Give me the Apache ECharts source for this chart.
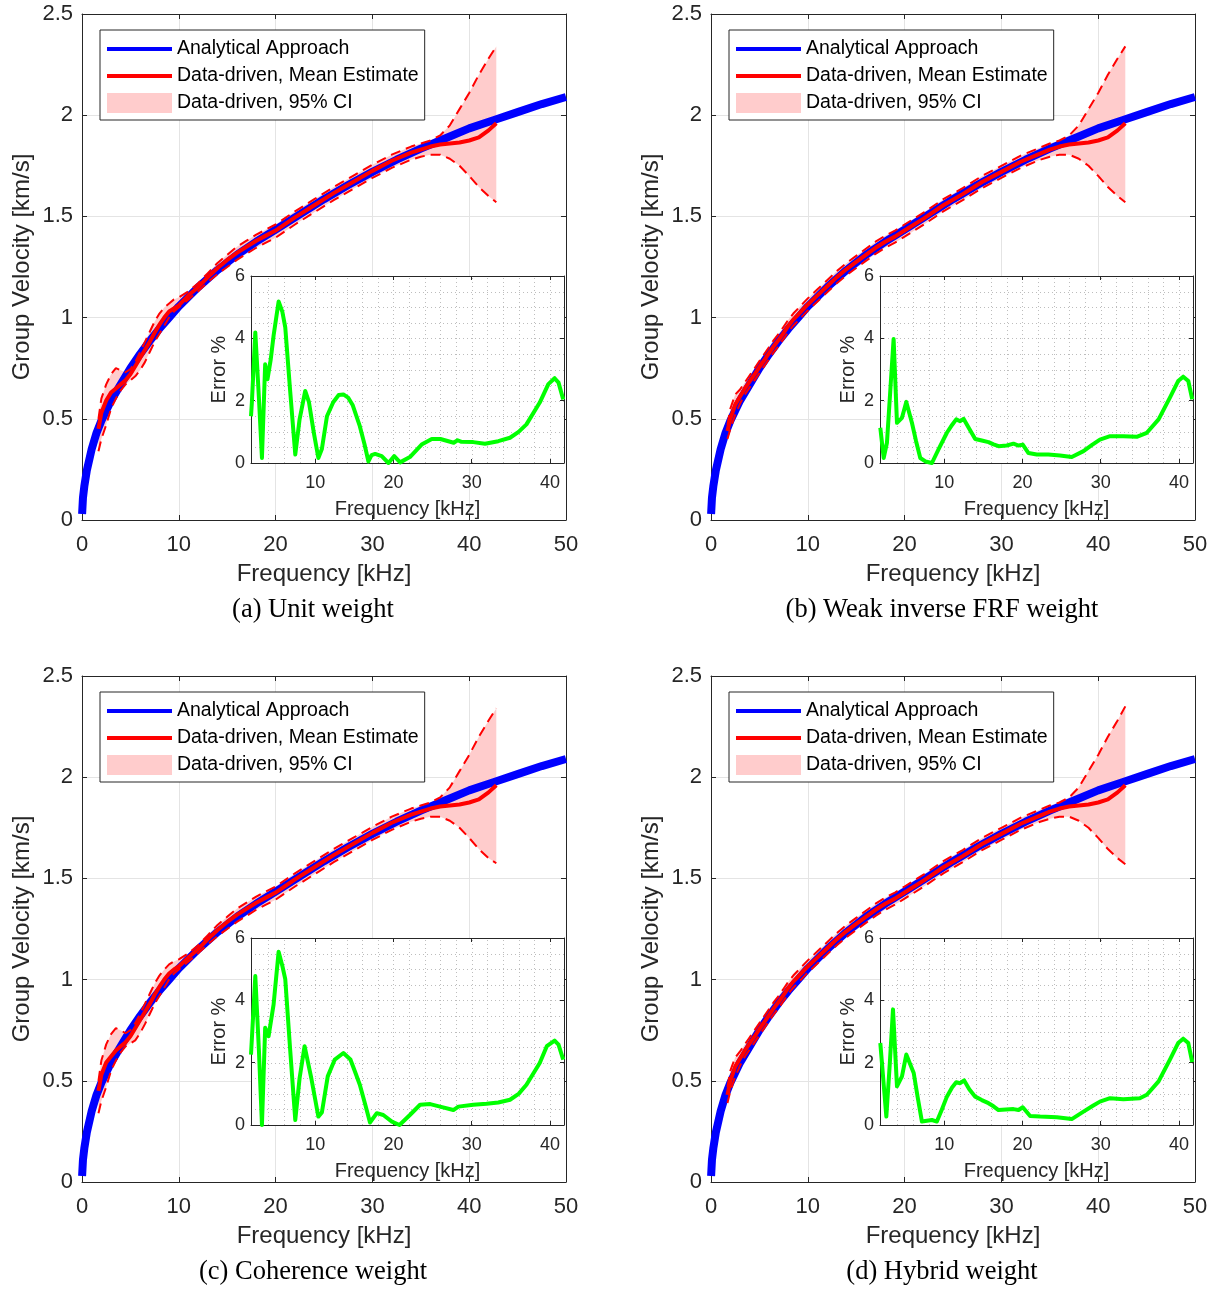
<!DOCTYPE html>
<html>
<head>
<meta charset="utf-8">
<script src="https://cdn.jsdelivr.net/npm/echarts@6/dist/echarts.min.js"></script>
<style>
  html, body { margin: 0; padding: 0; background: #fff; }
  #chart { width: 1217px; height: 1289px; }
</style>
</head>
<body>
<div id="chart"></div>
<script>
// ---- Analytical group velocity (same curve in every panel) ----
const fAna = [0.01, 0.1, 0.25, 0.5, 1, 1.5, 2, 3, 4, 5, 6, 7, 8, 9, 10, 12, 14, 16, 18, 20,
              22.5, 25, 27.5, 30, 32.5, 35, 37.5, 40, 42.5, 45, 47.5, 50];
const vAna = [0.03, 0.11, 0.17, 0.245, 0.35, 0.43, 0.49, 0.59, 0.67, 0.75, 0.82, 0.885, 0.945, 1.0, 1.055, 1.15, 1.235, 1.31, 1.375, 1.435,
              1.51, 1.585, 1.655, 1.72, 1.78, 1.835, 1.885, 1.935, 1.975, 2.015, 2.055, 2.09];

// ---- Data-driven estimates: common frequency grid [kHz] ----
const fDD = [1.7, 2.0, 2.5, 3.0, 3.5, 4.0, 4.5, 5.0, 5.5, 6.0, 6.5, 7.0, 7.5, 8.0, 8.5, 9.0, 9.5, 10,
             11, 12, 13, 14, 15, 16, 17, 18, 19, 20,
             22, 24, 26, 28, 30, 32, 34,
             35, 36, 37, 38, 39, 40, 41, 42, 42.8];

// (a) Unit weight
const meanA = [0.45, 0.53, 0.59, 0.63, 0.65, 0.67, 0.69, 0.72, 0.76, 0.80, 0.84, 0.88, 0.925, 0.965, 1.0, 1.03, 1.045, 1.06,
               1.11, 1.15, 1.20, 1.245, 1.285, 1.32, 1.35, 1.38, 1.405, 1.43,
               1.495, 1.555, 1.615, 1.67, 1.725, 1.775, 1.815,
               1.83, 1.845, 1.855, 1.86, 1.865, 1.875, 1.89, 1.925, 1.96];
const hiA = [0.50, 0.60, 0.67, 0.72, 0.75, 0.74, 0.73, 0.745, 0.78, 0.83, 0.88, 0.93, 0.98, 1.02, 1.05, 1.07, 1.09, 1.10,
             1.13, 1.17, 1.22, 1.27, 1.31, 1.35, 1.38, 1.41, 1.435, 1.46,
             1.525, 1.585, 1.645, 1.70, 1.755, 1.805, 1.845,
             1.86, 1.875, 1.90, 1.95, 2.03, 2.11, 2.20, 2.28, 2.34];
const loA = [0.34, 0.40, 0.47, 0.55, 0.60, 0.64, 0.67, 0.69, 0.71, 0.74, 0.78, 0.83, 0.88, 0.92, 0.96, 1.00, 1.03, 1.05,
             1.09, 1.13, 1.175, 1.215, 1.25, 1.285, 1.315, 1.345, 1.37, 1.395,
             1.46, 1.52, 1.58, 1.635, 1.69, 1.74, 1.78,
             1.795, 1.805, 1.805, 1.785, 1.75, 1.70, 1.645, 1.60, 1.57];

// (b) Weak inverse FRF weight
const meanB = [0.44, 0.50, 0.57, 0.61, 0.65, 0.685, 0.72, 0.755, 0.79, 0.825, 0.86, 0.89, 0.925, 0.96, 0.99, 1.015, 1.04, 1.065,
               1.11, 1.155, 1.20, 1.24, 1.275, 1.31, 1.345, 1.375, 1.40, 1.43,
               1.49, 1.555, 1.61, 1.67, 1.72, 1.77, 1.81,
               1.83, 1.845, 1.855, 1.86, 1.865, 1.875, 1.89, 1.925, 1.96];
const hiB = [0.47, 0.55, 0.62, 0.645, 0.68, 0.715, 0.75, 0.785, 0.82, 0.855, 0.89, 0.92, 0.955, 0.99, 1.02, 1.045, 1.07, 1.095,
             1.14, 1.185, 1.23, 1.27, 1.305, 1.34, 1.375, 1.405, 1.43, 1.46,
             1.52, 1.585, 1.64, 1.70, 1.75, 1.80, 1.84,
             1.86, 1.875, 1.90, 1.95, 2.03, 2.11, 2.20, 2.28, 2.34];
const loB = [0.40, 0.45, 0.52, 0.575, 0.62, 0.655, 0.69, 0.725, 0.76, 0.795, 0.83, 0.86, 0.895, 0.93, 0.96, 0.985, 1.01, 1.035,
             1.08, 1.125, 1.17, 1.21, 1.245, 1.28, 1.315, 1.345, 1.37, 1.40,
             1.46, 1.525, 1.58, 1.64, 1.69, 1.74, 1.78,
             1.795, 1.805, 1.805, 1.785, 1.75, 1.70, 1.645, 1.60, 1.57];

// (c) Coherence weight
const meanC = [0.45, 0.53, 0.59, 0.62, 0.65, 0.67, 0.69, 0.72, 0.76, 0.80, 0.84, 0.88, 0.925, 0.965, 1.0, 1.03, 1.05, 1.065,
               1.11, 1.15, 1.20, 1.245, 1.285, 1.32, 1.35, 1.38, 1.405, 1.43,
               1.495, 1.555, 1.615, 1.67, 1.725, 1.775, 1.815,
               1.83, 1.845, 1.855, 1.86, 1.865, 1.875, 1.89, 1.925, 1.96];
const hiC = [0.50, 0.60, 0.68, 0.73, 0.76, 0.75, 0.735, 0.75, 0.785, 0.83, 0.88, 0.93, 0.98, 1.02, 1.05, 1.075, 1.09, 1.10,
             1.13, 1.17, 1.22, 1.27, 1.31, 1.35, 1.38, 1.41, 1.435, 1.46,
             1.525, 1.585, 1.645, 1.70, 1.755, 1.805, 1.845,
             1.86, 1.875, 1.90, 1.95, 2.03, 2.11, 2.20, 2.28, 2.34];
const loC = [0.34, 0.40, 0.47, 0.55, 0.60, 0.64, 0.67, 0.685, 0.70, 0.735, 0.78, 0.83, 0.88, 0.92, 0.96, 1.00, 1.03, 1.05,
             1.09, 1.13, 1.175, 1.215, 1.25, 1.285, 1.315, 1.345, 1.37, 1.395,
             1.46, 1.52, 1.58, 1.635, 1.69, 1.74, 1.78,
             1.795, 1.805, 1.805, 1.785, 1.75, 1.70, 1.645, 1.60, 1.575];

// (d) Hybrid weight
const meanD = [0.43, 0.50, 0.57, 0.61, 0.65, 0.685, 0.72, 0.755, 0.79, 0.825, 0.86, 0.89, 0.925, 0.96, 0.99, 1.015, 1.04, 1.065,
               1.11, 1.155, 1.20, 1.24, 1.275, 1.31, 1.345, 1.375, 1.40, 1.43,
               1.49, 1.555, 1.61, 1.67, 1.72, 1.77, 1.81,
               1.83, 1.845, 1.855, 1.86, 1.865, 1.875, 1.89, 1.925, 1.96];
const hiD = [0.47, 0.55, 0.615, 0.645, 0.68, 0.715, 0.75, 0.785, 0.82, 0.855, 0.89, 0.92, 0.955, 0.99, 1.02, 1.045, 1.07, 1.095,
             1.14, 1.185, 1.23, 1.27, 1.305, 1.34, 1.375, 1.405, 1.43, 1.46,
             1.52, 1.585, 1.64, 1.70, 1.75, 1.80, 1.84,
             1.86, 1.875, 1.90, 1.95, 2.03, 2.11, 2.20, 2.28, 2.35];
const loD = [0.39, 0.45, 0.52, 0.575, 0.62, 0.655, 0.69, 0.725, 0.76, 0.795, 0.83, 0.86, 0.895, 0.93, 0.96, 0.985, 1.01, 1.035,
             1.08, 1.125, 1.17, 1.21, 1.245, 1.28, 1.315, 1.345, 1.37, 1.40,
             1.46, 1.525, 1.58, 1.64, 1.69, 1.74, 1.78,
             1.795, 1.805, 1.805, 1.785, 1.75, 1.70, 1.645, 1.60, 1.57];

// ---- Relative error of the mean estimate [%] ----
const errFreqA = [1.79, 1.9, 2.34, 2.8, 3.19, 3.6, 3.9, 4.3, 4.68, 5.32, 5.8, 6.17, 6.8, 7.45, 8.0, 8.72, 9.2, 9.8, 10.4, 10.85,
                  11.5, 12.3, 13.0, 13.6, 14.2, 14.8, 15.7, 16.3, 16.8, 17.2, 17.66, 18.5, 19.36, 20.1, 20.85,
                  22.1, 23.6, 24.9, 26.0, 27.7, 28.2, 28.7, 30.2, 31.7, 33.4, 34.9, 36.0, 37.0, 38.7, 39.8, 40.6, 41.1, 41.7];
const errA = [1.5, 1.94, 4.19, 2.1, 0.16, 3.17, 2.69, 3.3, 4.09, 5.18, 4.85, 4.35, 2.3, 0.27, 1.4, 2.31, 1.95, 1.0, 0.16, 0.45,
              1.5, 1.95, 2.18, 2.2, 2.1, 1.85, 1.18, 0.6, 0.05, 0.25, 0.29, 0.22, 0.0, 0.22, 0.02,
              0.19, 0.59, 0.77, 0.77, 0.65, 0.73, 0.68, 0.67, 0.62, 0.70, 0.81, 1.0, 1.24, 1.94, 2.53, 2.72, 2.58, 2.04];

const errFreqB = [1.83, 2.26, 2.68, 3.1, 3.53, 3.96, 4.6, 5.15, 5.87, 6.4, 6.94, 7.6, 8.43, 9.3, 10.34,
                  11.0, 11.53, 12.04, 12.47, 13.2, 13.96, 14.8, 15.66, 16.3, 16.94, 18.0, 18.85, 19.5, 20.04, 20.77,
                  21.83, 23.3, 24.8, 26.3, 27.8, 28.9, 29.9, 31.2, 32.9, 34.6, 35.9, 37.4, 38.85, 39.9, 40.55, 41.2, 41.7];
const errB = [1.13, 0.16, 0.65, 2.3, 3.98, 1.29, 1.45, 1.96, 1.29, 0.7, 0.16, 0.05, 0.0, 0.45, 0.97,
              1.22, 1.4, 1.34, 1.42, 1.1, 0.77, 0.72, 0.67, 0.6, 0.54, 0.56, 0.62, 0.56, 0.59, 0.32,
              0.27, 0.27, 0.24, 0.19, 0.38, 0.58, 0.75, 0.86, 0.86, 0.84, 0.97, 1.4, 2.1, 2.63, 2.77, 2.63, 2.04];

const errFreqC = [1.79, 2.34, 2.8, 3.19, 3.6, 4.04, 4.68, 5.32, 5.8, 6.17, 6.8, 7.45, 8.0, 8.64, 9.5,
                  10.4, 10.85, 11.6, 12.5, 13.6, 14.5, 15.1, 15.7, 16.4, 17.0, 17.87, 18.7, 19.8, 20.77,
                  22.1, 23.4, 24.7, 25.96, 27.66, 28.3, 30.2, 31.9, 33.4, 34.9, 36.0, 37.0, 38.7, 39.6, 40.6, 41.1, 41.7];
const errC = [2.26, 4.78, 2.4, 0.0, 3.12, 2.85, 3.87, 5.56, 5.1, 4.68, 2.4, 0.16, 1.5, 2.53, 1.5,
              0.27, 0.4, 1.56, 2.1, 2.31, 2.1, 1.7, 1.29, 0.65, 0.08, 0.38, 0.32, 0.11, 0.0,
              0.32, 0.65, 0.67, 0.59, 0.48, 0.59, 0.65, 0.68, 0.72, 0.81, 1.0, 1.29, 1.99, 2.53, 2.71, 2.58, 2.1];

const errFreqD = [1.83, 2.6, 3.05, 3.45, 3.96, 4.6, 5.15, 6.1, 6.6, 7.15, 8.43, 9.06, 9.7, 10.34,
                  11.0, 11.53, 12.04, 12.55, 13.2, 13.96, 14.8, 15.66, 16.3, 16.94, 18.85, 19.5, 20.04, 20.98,
                  22.26, 24.4, 26.3, 27.8, 28.9, 29.9, 31.2, 32.9, 35.0, 35.9, 37.4, 38.85, 39.9, 40.55, 41.2, 41.7];
const errD = [2.63, 0.27, 2.0, 3.71, 1.24, 1.56, 2.26, 1.67, 0.9, 0.11, 0.16, 0.11, 0.5, 0.91,
              1.2, 1.37, 1.34, 1.43, 1.15, 0.91, 0.8, 0.70, 0.6, 0.48, 0.51, 0.48, 0.57, 0.29,
              0.27, 0.25, 0.19, 0.43, 0.6, 0.75, 0.86, 0.83, 0.86, 0.97, 1.40, 2.10, 2.63, 2.77, 2.63, 2.02];

// ---- Axis ticks / labels ----
const mainXTicks = [0, 10, 20, 30, 40, 50];
const mainYTicks = [0, 0.5, 1, 1.5, 2, 2.5];
const insetXTicks = [10, 20, 30, 40];
const insetYTicks = [0, 2, 4, 6];
const insetXMinor = [4, 6, 8, 10, 12, 14, 16, 18, 20, 22, 24, 26, 28, 30, 32, 34, 36, 38, 40];
const insetYMinor = [0.5, 1, 1.5, 2, 2.5, 3, 3.5, 4, 4.5, 5, 5.5];

const captions = ['(a) Unit weight', '(b) Weak inverse FRF weight', '(c) Coherence weight', '(d) Hybrid weight'];
const legendNames = ['Analytical Approach', 'Data-driven, Mean Estimate', 'Data-driven, 95% CI'];

const panels = [
  { mean: meanA, lo: loA, hi: hiA, ef: errFreqA, err: errA },
  { mean: meanB, lo: loB, hi: hiB, ef: errFreqB, err: errB },
  { mean: meanC, lo: loC, hi: hiC, ef: errFreqC, err: errC },
  { mean: meanD, lo: loD, hi: hiD, ef: errFreqD, err: errD }
];

// ---- Layout of the 2x2 figure ----
const layout = [
  { left: 82,  top: 14,  inL: 251, inT: 276, capX: 313, capY: 610 },
  { left: 711, top: 14,  inL: 880, inT: 276, capX: 942, capY: 610 },
  { left: 82,  top: 676, inL: 251, inT: 938, capX: 313, capY: 1272 },
  { left: 711, top: 676, inL: 880, inT: 938, capX: 942, capY: 1272 }
];
const MAIN_W = 484, MAIN_H = 506, IN_W = 313, IN_H = 187;

const FONT = '"Liberation Sans", Arial, Helvetica, sans-serif';
const AXC = '#262626';
const BLUE = '#0000ff', RED = '#ff0000', PINK = '#ffcccc', GREEN = '#00ff00';

const zip = (xs, ys) => xs.map((x, i) => [x, ys[i]]);

const grid = [], xAxis = [], yAxis = [], series = [], legend = [], graphic = [];

function axisBase(gi, z) {
  return {
    type: 'value', gridIndex: gi, z: z,
    axisLine: { show: true, onZero: false, lineStyle: { color: AXC, width: 1 } },
    axisTick: { show: true, inside: true, length: 5, lineStyle: { color: AXC, width: 1 } },
    splitLine: { show: false },
    axisLabel: { show: false }
  };
}

layout.forEach((L, i) => {
  const P = panels[i];
  const gMain = 2 * i, gIn = 2 * i + 1;
  grid.push({ left: L.left, top: L.top, width: MAIN_W, height: MAIN_H, z: 0 });
  grid.push({ left: L.inL, top: L.inT, width: IN_W, height: IN_H, z: 7, show: true,
              backgroundColor: '#ffffff', borderWidth: 0 });

  // main axes (bottom/top, left/right)
  xAxis.push(Object.assign(axisBase(gMain, 0), {
    position: 'bottom', min: 0, max: 50, interval: 10,
    splitLine: { show: true, lineStyle: { color: '#e4e4e4', width: 1 } },
    axisLabel: { show: true, fontSize: 22, color: AXC, fontFamily: FONT, margin: 14 },
    name: 'Frequency [kHz]', nameLocation: 'middle', nameGap: 42,
    nameTextStyle: { fontSize: 24, color: AXC, fontFamily: FONT }
  }));
  xAxis.push(Object.assign(axisBase(gMain, 0), { position: 'top', min: 0, max: 50, interval: 10 }));
  yAxis.push(Object.assign(axisBase(gMain, 0), {
    position: 'left', min: 0, max: 2.5, interval: 0.5,
    splitLine: { show: true, lineStyle: { color: '#e4e4e4', width: 1 } },
    axisLabel: { show: true, fontSize: 22, color: AXC, fontFamily: FONT, margin: 9 },
    name: 'Group Velocity [km/s]', nameLocation: 'middle', nameGap: 48,
    nameTextStyle: { fontSize: 24, color: AXC, fontFamily: FONT }
  }));
  yAxis.push(Object.assign(axisBase(gMain, 0), { position: 'right', min: 0, max: 2.5, interval: 0.5 }));

  // inset axes
  const inTick = { show: true, inside: true, length: 4, customValues: insetXTicks, lineStyle: { color: AXC, width: 1 } };
  xAxis.push(Object.assign(axisBase(gIn, 8), {
    position: 'bottom', min: 1.79, max: 41.8,
    axisTick: inTick,
    axisLabel: { show: true, customValues: insetXTicks, fontSize: 18, color: AXC, fontFamily: FONT, margin: 11 },
    name: 'Frequency [kHz]', nameLocation: 'middle', nameGap: 36,
    nameTextStyle: { fontSize: 20, color: AXC, fontFamily: FONT }
  }));
  xAxis.push(Object.assign(axisBase(gIn, 8), { position: 'top', min: 1.79, max: 41.8, axisTick: inTick }));
  yAxis.push(Object.assign(axisBase(gIn, 8), {
    position: 'left', min: 0, max: 6, interval: 2,
    axisTick: { show: true, inside: true, length: 4, lineStyle: { color: AXC, width: 1 } },
    axisLabel: { show: true, fontSize: 18, color: AXC, fontFamily: FONT, margin: 6 },
    name: 'Error %', nameLocation: 'middle', nameGap: 22,
    nameTextStyle: { fontSize: 20, color: AXC, fontFamily: FONT }
  }));
  yAxis.push(Object.assign(axisBase(gIn, 8), {
    position: 'right', min: 0, max: 6, interval: 2,
    axisTick: { show: true, inside: true, length: 4, lineStyle: { color: AXC, width: 1 } }
  }));

  const xm = 4 * i, xin = 4 * i + 2;

  // 95% confidence band
  series.push({
    type: 'custom', name: legendNames[2], xAxisIndex: xm, yAxisIndex: xm, z: 2,
    itemStyle: { color: PINK }, silent: true, data: [[20, 1]],
    renderItem: (params, api) => {
      const pts = [];
      for (let k = 0; k < fDD.length; k++) pts.push(api.coord([fDD[k], P.hi[k]]));
      for (let k = fDD.length - 1; k >= 0; k--) pts.push(api.coord([fDD[k], P.lo[k]]));
      return { type: 'polygon', shape: { points: pts }, style: { fill: PINK } };
    }
  });
  // analytical curve
  series.push({
    type: 'line', name: legendNames[0], xAxisIndex: xm, yAxisIndex: xm, z: 3,
    data: zip(fAna, vAna), showSymbol: false, symbol: 'none', silent: true,
    lineStyle: { color: BLUE, width: 8 }, itemStyle: { color: BLUE }
  });
  // data-driven mean estimate
  series.push({
    type: 'line', name: legendNames[1], xAxisIndex: xm, yAxisIndex: xm, z: 4,
    data: zip(fDD, P.mean), showSymbol: false, symbol: 'none', silent: true,
    lineStyle: { color: RED, width: 4 }, itemStyle: { color: RED }
  });
  // dashed confidence bounds
  [P.hi, P.lo].forEach((b, k) => series.push({
    type: 'line', name: 'bound' + i + k, xAxisIndex: xm, yAxisIndex: xm, z: 5,
    data: zip(fDD, b), showSymbol: false, symbol: 'none', silent: true,
    lineStyle: { color: RED, width: 2, type: [10, 6] }
  }));

  // inset dotted grid (minor + major), placed through the inset scales
  series.push({
    type: 'custom', name: 'insetgrid' + i, xAxisIndex: xin, yAxisIndex: xin, z: 8,
    silent: true, data: [[20, 3]],
    renderItem: (params, api) => {
      const children = [];
      const st = { stroke: '#bdbdbd', lineWidth: 1, lineDash: [1, 3] };
      insetXMinor.forEach(v => {
        const a = api.coord([v, 0]), b = api.coord([v, 6]);
        const x = Math.round(a[0]) + 0.5;
        children.push({ type: 'line', shape: { x1: x, y1: a[1], x2: x, y2: b[1] }, style: st });
      });
      insetYMinor.forEach(v => {
        const a = api.coord([1.79, v]), b = api.coord([41.8, v]);
        const y = Math.round(a[1]) + 0.5;
        children.push({ type: 'line', shape: { x1: a[0], y1: y, x2: b[0], y2: y }, style: st });
      });
      return { type: 'group', children };
    }
  });
  // inset error curve
  series.push({
    type: 'line', name: 'error' + i, xAxisIndex: xin, yAxisIndex: xin, z: 9,
    data: zip(P.ef, P.err), showSymbol: false, symbol: 'none', silent: true,
    lineStyle: { color: GREEN, width: 4, join: 'round' }
  });

  legend.push({
    left: L.left + 18, top: L.top + 16, orient: 'vertical', z: 6,
    backgroundColor: '#ffffff', borderColor: AXC, borderWidth: 1, borderRadius: 0,
    padding: [9, 6, 7, 7], itemWidth: 65, itemHeight: 20, itemGap: 7, selectedMode: false,
    textStyle: { fontSize: 19.5, color: '#000', fontFamily: FONT },
    itemStyle: { borderWidth: 0 },
    data: [
      { name: legendNames[0], icon: 'path://M0,0h65v4h-65z', itemStyle: { color: BLUE, borderWidth: 0 } },
      { name: legendNames[1], icon: 'path://M0,0h65v4h-65z', itemStyle: { color: RED, borderWidth: 0 } },
      { name: legendNames[2], icon: 'rect', itemStyle: { color: PINK, borderWidth: 0 } }
    ]
  });

  graphic.push({
    type: 'text', x: L.capX, y: L.capY, z: 10,
    style: { text: captions[i], font: '26.5px "Liberation Serif", "Times New Roman", serif',
             fill: '#000', align: 'center', verticalAlign: 'middle' }
  });
});

const chart = echarts.init(document.getElementById('chart'), null, { renderer: 'canvas' });
chart.setOption({
  animation: false,
  backgroundColor: '#ffffff',
  grid, xAxis, yAxis, series, legend, graphic
});
</script>
</body>
</html>
